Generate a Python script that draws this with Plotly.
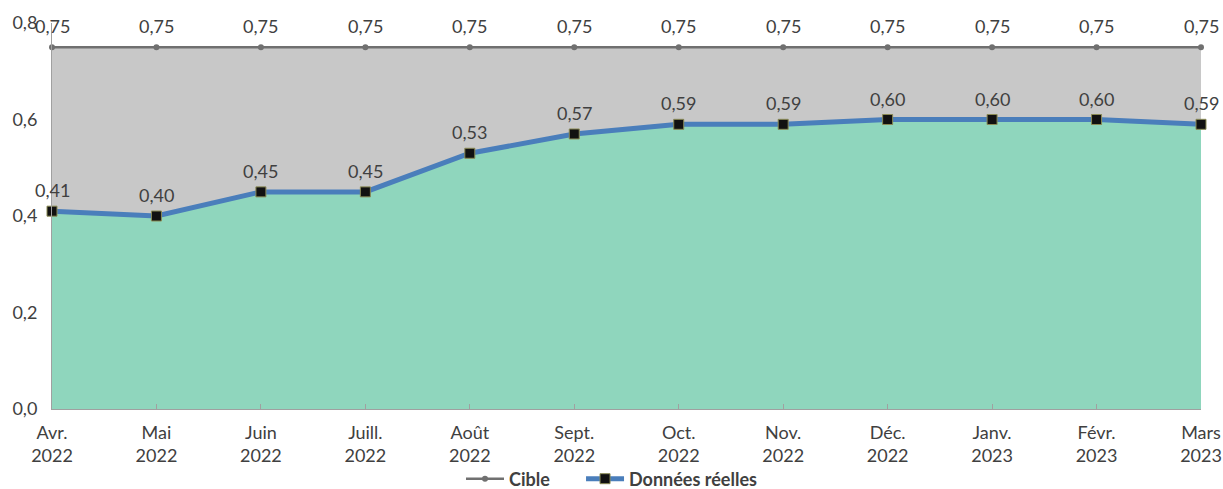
import plotly.graph_objects as go

months = ["Avr.<br>2022", "Mai<br>2022", "Juin<br>2022", "Juill.<br>2022", "Août<br>2022", "Sept.<br>2022",
          "Oct.<br>2022", "Nov.<br>2022", "Déc.<br>2022", "Janv.<br>2023", "Févr.<br>2023", "Mars<br>2023"]
cible = [0.75] * 12
donnees = [0.41, 0.40, 0.45, 0.45, 0.53, 0.57, 0.59, 0.59, 0.60, 0.60, 0.60, 0.59]
yticks = [0.0, 0.2, 0.4, 0.6, 0.8]

x = list(range(len(months)))
font = "Lato, Noto Sans, sans-serif"
tc = "#404040"
fs = 18

def fmt(v, d=2):
    return f"{v:.{d}f}".replace(".", ",")

fig = go.Figure()
# area fills (no legend entries)
fig.add_trace(go.Scatter(x=x, y=cible, mode="none", fill="tozeroy", fillcolor="#c8c8c8",
                         showlegend=False, hoverinfo="skip"))
fig.add_trace(go.Scatter(x=x, y=donnees, mode="none", fill="tozeroy", fillcolor="#8fd6bd",
                         showlegend=False, hoverinfo="skip"))
# lines with markers
fig.add_trace(go.Scatter(
    x=x, y=cible, name="Cible" + "\u00a0" * 6, mode="lines+markers",
    line=dict(color="#707070", width=2.5),
    marker=dict(color="#707070", size=6),
    cliponaxis=False,
))
fig.add_trace(go.Scatter(
    x=x, y=donnees, name="Données réelles", mode="lines+markers",
    line=dict(color="#4a7ebb", width=5),
    marker=dict(color="#111111", size=10, symbol="square", line=dict(color="#8a8a55", width=1)),
    cliponaxis=False,
))

annotations = []
for series in (cible, donnees):
    for xi, v in zip(x, series):
        annotations.append(dict(x=xi, y=v, xref="x", yref="y", text=fmt(v), showarrow=False,
                                xanchor="center", yanchor="bottom", yshift=8,
                                font=dict(size=fs, color=tc, family=font)))

fig.update_layout(
    width=1223, height=489,
    margin=dict(l=52, r=22, t=23, b=80),
    paper_bgcolor="white", plot_bgcolor="white",
    separators=", ",
    font=dict(family=font, size=fs, color=tc),
    showlegend=True,
    annotations=annotations,
    legend=dict(orientation="h", x=0.5, xanchor="center", xref="container",
                y=10 / 489, yanchor="middle", yref="container", itemwidth=38,
                bgcolor="rgba(0,0,0,0)",
                font=dict(size=fs, color=tc, family=font, weight="bold"), traceorder="normal"),
    xaxis=dict(range=[0, 11], tickmode="array", tickvals=x, ticktext=months,
               showgrid=False, zeroline=False, showline=True, linecolor="#a0a0a0",
               ticks="inside", ticklen=5, tickcolor="#a0a0a0", automargin=False,
               ticklabelstandoff=7,
               tickfont=dict(size=fs, color=tc, family=font)),
    yaxis=dict(range=[0, 0.8], tickmode="array", tickvals=yticks,
               ticktext=[fmt(v, 1) for v in yticks],
               showgrid=False, zeroline=False, showline=True, linecolor="#a0a0a0",
               ticks="", automargin=False, ticklabelstandoff=10,
               tickfont=dict(size=fs, color=tc, family=font)),
)

# remove the page's default body margin so the 1223x489 figure fills the window exactly
fig.write_html("out.html", config={"displayModeBar": False},
               post_script="document.body.style.margin='0';document.body.style.overflow='hidden';")
